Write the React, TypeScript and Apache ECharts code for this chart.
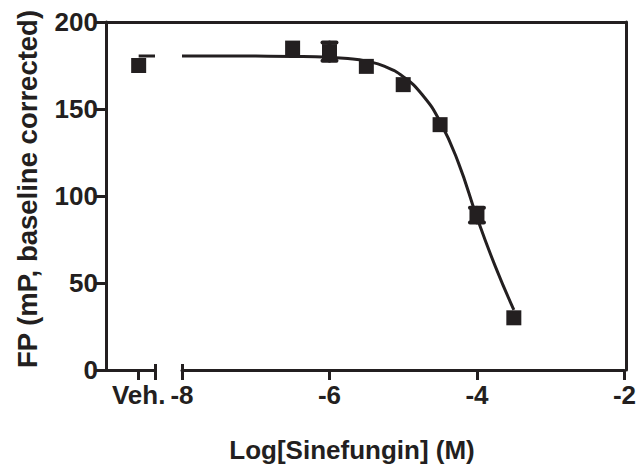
import React, { useEffect, useRef } from "react";
import * as echarts from "echarts";

const INK = "#231f20";
const FONT = "'Liberation Sans', Arial, Helvetica, sans-serif";

// Vehicle (no compound) point on the broken left segment
const vehX = 0;
const vehMean = 175;
const vehFitLevel = 180.5;

// Log[Sinefungin] (M) doses and FP readings
const doses = [-6.5, -6, -5.5, -5, -4.5, -4, -3.5];
const means = [185, 183, 174.5, 164, 141, 89, 30];
const errors = [0, 5.2, 0, 0, 0, 4.2, 0];

// Fitted dose-response curve
const fitX = [-8, -7.5, -7, -6.5, -6, -5.75, -5.5, -5.25, -5, -4.75, -4.5, -4.25, -4, -3.75, -3.5];
const fitY = [180.5, 180.5, 180.4, 180.2, 179.7, 179, 177.5, 174.5, 168.6, 158.6, 142.7, 118.9, 87.7, 59.4, 34.6];

// Axis ticks
const yTicks = [0, 50, 100, 150, 200];
const xMainMin = -8;
const xMainMax = -2;
const xMainStep = 2;

const lineStyle = { color: INK, width: 3 };
const labelStyle = { color: INK, fontSize: 26, fontWeight: "bold" as const, fontFamily: FONT };

export default function App() {
  const ref = useRef<HTMLDivElement>(null);

  useEffect(() => {
    document.body.style.margin = "0";
    if (!ref.current) return;
    const chart = echarts.init(ref.current, undefined, { renderer: "svg" });

    const option: any = {
      animation: false,
      backgroundColor: "#ffffff",
      grid: [
        { left: 106, top: 22, width: 49, height: 348 },
        { left: 182, top: 22, width: 444, height: 348 },
        { left: 106, top: 22, width: 520, height: 348 },
      ],
      xAxis: [
        {
          gridIndex: 0,
          type: "value",
          min: -2,
          max: 1,
          position: "bottom",
          axisLine: { show: true, onZero: false, lineStyle },
          axisTick: { show: true, customValues: [vehX, 1], length: 10, lineStyle },
          axisLabel: {
            ...labelStyle,
            customValues: [vehX],
            margin: 12,
            formatter: (v: number) => (v === vehX ? "Veh." : ""),
          },
          splitLine: { show: false },
        },
        {
          gridIndex: 1,
          type: "value",
          min: xMainMin,
          max: xMainMax,
          interval: xMainStep,
          position: "bottom",
          axisLine: { show: true, onZero: false, lineStyle },
          axisTick: { show: true, length: 10, lineStyle },
          axisLabel: { ...labelStyle, margin: 12, formatter: (v: number) => String(v) },
          splitLine: { show: false },
        },
        {
          gridIndex: 2,
          type: "value",
          min: 0,
          max: 1,
          position: "top",
          axisLine: { show: true, onZero: false, lineStyle },
          axisTick: { show: false },
          axisLabel: { show: false },
          splitLine: { show: false },
        },
        {
          gridIndex: 0,
          type: "value",
          min: -2,
          max: 1,
          position: "bottom",
          axisLine: { show: false, onZero: false },
          axisTick: { show: true, inside: true, customValues: [1], length: 6, lineStyle },
          axisLabel: { show: false },
          splitLine: { show: false },
        },
        {
          gridIndex: 1,
          type: "value",
          min: xMainMin,
          max: xMainMax,
          position: "bottom",
          axisLine: { show: false, onZero: false },
          axisTick: { show: true, inside: true, customValues: [xMainMin], length: 6, lineStyle },
          axisLabel: { show: false },
          splitLine: { show: false },
        },
      ],
      yAxis: [
        {
          gridIndex: 0,
          type: "value",
          min: yTicks[0],
          max: yTicks[yTicks.length - 1],
          interval: yTicks[1] - yTicks[0],
          axisLine: { show: true, onZero: false, lineStyle },
          axisTick: { show: true, length: 10, lineStyle },
          axisLabel: { ...labelStyle, margin: 8 },
          splitLine: { show: false },
        },
        {
          gridIndex: 1,
          type: "value",
          min: yTicks[0],
          max: yTicks[yTicks.length - 1],
          show: false,
          splitLine: { show: false },
        },
        {
          gridIndex: 2,
          type: "value",
          min: 0,
          max: 200,
          position: "right",
          axisLine: { show: true, onZero: false, lineStyle },
          axisTick: { show: false },
          axisLabel: { show: false },
          splitLine: { show: false },
        },
      ],
      series: [
        {
          type: "line",
          xAxisIndex: 0,
          yAxisIndex: 0,
          data: [
            [vehX, vehFitLevel],
            [1, vehFitLevel],
          ],
          symbol: "none",
          lineStyle: { color: INK, width: 3 },
          z: 2,
        },
        {
          type: "line",
          xAxisIndex: 1,
          yAxisIndex: 1,
          data: fitX.map((x, i) => [x, fitY[i]]),
          symbol: "none",
          smooth: 0.5,
          lineStyle: { color: INK, width: 3 },
          z: 2,
        },
        {
          type: "custom",
          xAxisIndex: 1,
          yAxisIndex: 1,
          data: doses.map((d, i) => [d, means[i], errors[i]]),
          renderItem: (params: any, api: any) => {
            const x = api.value(0);
            const y = api.value(1);
            const e = api.value(2);
            if (!e) return null;
            const top = api.coord([x, y + e]);
            const bot = api.coord([x, y - e]);
            const hw = 7;
            const st = { stroke: INK, lineWidth: 4, lineCap: "round" };
            return {
              type: "group",
              children: [
                { type: "line", shape: { x1: top[0], y1: top[1], x2: bot[0], y2: bot[1] }, style: st },
                { type: "line", shape: { x1: top[0] - hw, y1: top[1], x2: top[0] + hw, y2: top[1] }, style: st },
                { type: "line", shape: { x1: bot[0] - hw, y1: bot[1], x2: bot[0] + hw, y2: bot[1] }, style: st },
              ],
            };
          },
          z: 3,
        },
        {
          type: "scatter",
          xAxisIndex: 0,
          yAxisIndex: 0,
          data: [[vehX, vehMean]],
          symbol: "rect",
          symbolSize: 15,
          itemStyle: { color: INK, opacity: 1 },
          z: 4,
        },
        {
          type: "scatter",
          xAxisIndex: 1,
          yAxisIndex: 1,
          data: doses.map((d, i) => [d, means[i]]),
          symbol: "rect",
          symbolSize: 15,
          itemStyle: { color: INK, opacity: 1 },
          z: 4,
        },
      ],
      graphic: [
        {
          type: "text",
          x: 352,
          y: 450,
          style: {
            text: "Log[Sinefungin] (M)",
            fill: INK,
            fontSize: 26,
            fontWeight: "bold",
            fontFamily: FONT,
            align: "center",
            verticalAlign: "middle",
          },
        },
        {
          type: "text",
          x: 27,
          y: 189,
          rotation: Math.PI / 2,
          style: {
            text: "FP (mP, baseline corrected)",
            fill: INK,
            fontSize: 27.5,
            fontWeight: "bold",
            fontFamily: FONT,
            align: "center",
            verticalAlign: "middle",
          },
        },
      ],
    };

    chart.setOption(option);
    return () => chart.dispose();
  }, []);

  return <div ref={ref} style={{ width: 639, height: 468 }} />;
}
